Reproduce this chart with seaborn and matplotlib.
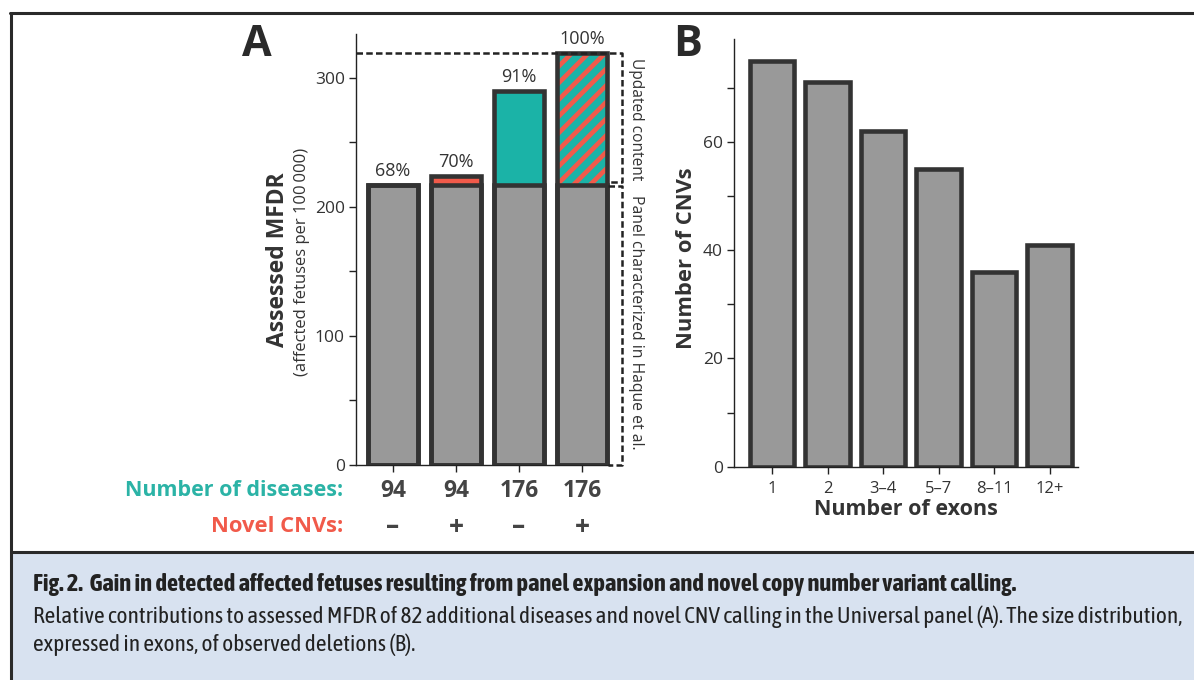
import numpy as np
import pandas as pd
import matplotlib
matplotlib.use('Agg')
import matplotlib.pyplot as plt
import seaborn as sns
from matplotlib import font_manager
from matplotlib.lines import Line2D
from matplotlib.patches import Rectangle
import matplotlib.transforms as mtrans

# ---------------- data ----------------
conditions = ['94 / –', '94 / +', '176 / –', '176 / +']
n_diseases = [94, 94, 176, 176]
novel_cnvs = ['–', '+', '–', '+']
base_mfdr = [217, 217, 217, 217]
total_mfdr = [217, 224, 290, 319]
exon_bins = ['1', '2', '3–4', '5–7', '8–11', '12+']
cnv_counts = [75, 71, 62, 55, 36, 41]

W, H = 1194, 680
GRAY = '#999999'
EDGE = '#333333'
TEAL = '#1bb3a7'
RED = '#f15a4a'
TXT = '#333333'

sns.set_theme(style='ticks')
FONT = 'Open Sans'
plt.rcParams['font.family'] = [FONT, 'DejaVu Sans']
plt.rcParams['hatch.linewidth'] = 5.1
plt.rcParams['axes.edgecolor'] = '#222222'
plt.rcParams['xtick.color'] = '#222222'
plt.rcParams['ytick.color'] = '#222222'

names = {f.name for f in font_manager.fontManager.ttflist}
CAP = 'Asap Condensed' if 'Asap Condensed' in names else 'DejaVu Sans'


def px(x, y):
    return x / W, 1 - y / H


fig = plt.figure(figsize=(W / 100, H / 100), dpi=100)
fig.patch.set_facecolor('white')
renderer = fig.canvas.get_renderer()

# ---------------- frame & caption ----------------
fig.patches.append(Rectangle(px(11, 680), (W - 11) / W, (680 - 552) / H,
                             transform=fig.transFigure, facecolor='#d8e2f0',
                             edgecolor='none', zorder=0))
for (x0, y0, x1, y1) in [(10, 13, W, 13), (11, 13, 11, H), (11, 552, W, 552)]:
    a, b = px(x0, y0)
    c, d = px(x1, y1)
    fig.lines.append(Line2D([a, c], [b, d], transform=fig.transFigure,
                            color='#2a2a2a', lw=2.2))


def fitted_text(y, s, target_w, fs, **kw):
    t = fig.text(*px(33, y), s, fontsize=fs, family=[CAP, 'DejaVu Sans'],
                 color='#222222', va='center', ha='left', **kw)
    w = t.get_window_extent(renderer).width
    t.set_fontsize(fs * target_w / w)
    return t


t1 = fitted_text(585, 'Fig. 2.  Gain in detected affected fetuses resulting from panel expansion and novel copy number variant calling.',
                 1020 - 33, 16, fontweight='bold')
t2 = fitted_text(617, 'Relative contributions to assessed MFDR of 82 additional diseases and novel CNV calling in the Universal panel (A). The size distribution,',
                 1189 - 33, 15)
t3 = fig.text(*px(33, 645), 'expressed in exons, of observed deletions (B).',
              fontsize=t2.get_fontsize(), family=[CAP, 'DejaVu Sans'],
              color='#222222', va='center', ha='left')

# ---------------- Panel A ----------------
axA = fig.add_axes([356 / W, (H - 464.7) / H, 254 / W, (464.7 - 34) / H])
bw = 0.78
colA = [GRAY if t == b else (RED if c == '+' else TEAL)
        for t, b, c in zip(total_mfdr, base_mfdr, novel_cnvs)]
sns.barplot(x=conditions, y=total_mfdr, hue=conditions, palette=colA, legend=False,
            saturation=1, width=bw, linewidth=0, ax=axA, zorder=2)
all_patches = [p for c in axA.containers for p in c.patches]
for i, p in enumerate(all_patches):
    if n_diseases[i] == max(n_diseases) and novel_cnvs[i] == '+':
        p.set_facecolor(RED)
        p.set_hatch('//')
        p.set_edgecolor(TEAL)
        p.set_linewidth(0)
sns.barplot(x=conditions, y=base_mfdr, color=GRAY, saturation=1, width=bw,
            edgecolor=EDGE, linewidth=3.3, ax=axA, zorder=3)
sns.barplot(x=conditions, y=total_mfdr, color=EDGE, fill=False, width=bw,
            linewidth=3.3, ax=axA, zorder=4)
for c in axA.containers[-1].patches:
    c.set_edgecolor(EDGE)
    c.set_facecolor('none')

axA.set_xlim(-0.587, 3.444)
axA.set_ylim(0, 334)
axA.set_yticks(np.arange(0, 301, 50))
axA.set_yticklabels([str(v) if v % 100 == 0 else '' for v in range(0, 301, 50)])
axA.set_xticks(range(len(conditions)))
axA.set_xticklabels([''] * len(conditions))
axA.set_xlabel('')
axA.set_ylabel('')
sns.despine(ax=axA)
axA.tick_params(axis='both', length=5, width=1, labelsize=12.5, labelcolor=TXT, pad=3)
axA.spines['left'].set_linewidth(1)
axA.spines['bottom'].set_linewidth(1)

for i, t in enumerate(total_mfdr):
    axA.text(i, t + 4, f'{round(100 * t / max(total_mfdr))}%', ha='center', va='bottom',
             fontsize=13, color=TXT, zorder=5)

xb = len(conditions) - 1 + bw / 2 + 0.245
xr = len(conditions) - 1 + bw / 2 + 0.02
dkw = dict(color='#222222', lw=1.8, ls=(0, (2.6, 1.3)), clip_on=False, zorder=6)
top = max(total_mfdr)
bse = max(base_mfdr)
axA.plot([axA.get_xlim()[0], xb, xb, xb, xr], [top, top, top, bse + 2, bse + 2], **dkw)
axA.plot([xr, xb, xb, xr], [bse - 1, bse - 1, 0, 0], **dkw)
axA.text(xb + 0.22, (top + bse) / 2, 'Updated content', rotation=-90, ha='center',
         va='center', fontsize=11.2, color=TXT)
axA.text(xb + 0.22, bse / 2 + 2, 'Panel characterized in Haque et al.', rotation=-90,
         ha='center', va='center', fontsize=11.3, color=TXT)

bt = mtrans.blended_transform_factory(axA.transData, fig.transFigure)
for i, (n, c) in enumerate(zip(n_diseases, novel_cnvs)):
    axA.text(i, px(0, 491)[1], str(n), transform=bt, ha='center', va='center',
             fontsize=16.5, fontweight='bold', color='#444444')
    axA.text(i, px(0, 527)[1], c, transform=bt, ha='center', va='center',
             fontsize=19, fontweight='bold', color='#444444')
fig.text(*px(343, 491), 'Number of diseases:', ha='right', va='center', fontsize=15.5,
         fontweight='bold', color='#2bb3a6')
fig.text(*px(343, 527), 'Novel CNVs:', ha='right', va='center', fontsize=15.8,
         fontweight='bold', color=RED)

fig.text(*px(278, 260), 'Assessed MFDR', rotation=90, ha='center', va='center',
         fontsize=16.5, fontweight='bold', color=TXT)
fig.text(*px(302, 262), '(affected fetuses per 100\u2009000)', rotation=90, ha='center',
         va='center', fontsize=12, color=TXT)
fig.text(*px(257, 45), 'A', ha='center', va='center', fontsize=31, fontweight='bold',
         color='#2a2a2a')

# ---------------- Panel B ----------------
axB = fig.add_axes([734 / W, (H - 466.7) / H, 344 / W, (466.7 - 39) / H])
sns.barplot(x=exon_bins, y=cnv_counts, color=GRAY, saturation=1, width=0.8,
            edgecolor=EDGE, linewidth=3.3, ax=axB)
axB.set_xlim(-0.685, 5.51)
axB.set_ylim(0, 79)
axB.set_yticks(np.arange(0, 71, 10))
axB.set_yticklabels([str(v) if v % 20 == 0 else '' for v in range(0, 71, 10)])
sns.despine(ax=axB)
axB.tick_params(axis='both', length=5, width=1, labelsize=12.5, labelcolor=TXT, pad=3)
axB.tick_params(axis='x', labelsize=12, pad=5)
axB.spines['left'].set_linewidth(1)
axB.spines['bottom'].set_linewidth(1)
axB.set_xlabel('Number of exons', fontsize=15.5, fontweight='bold', color=TXT, labelpad=2)
axB.set_ylabel('')
fig.text(*px(687, 258), 'Number of CNVs', rotation=90, ha='center', va='center',
         fontsize=15.8, fontweight='bold', color=TXT)
fig.text(*px(688, 44), 'B', ha='center', va='center', fontsize=31, fontweight='bold',
         color='#2a2a2a')

fig.savefig('out.png', dpi=100, facecolor='white')
